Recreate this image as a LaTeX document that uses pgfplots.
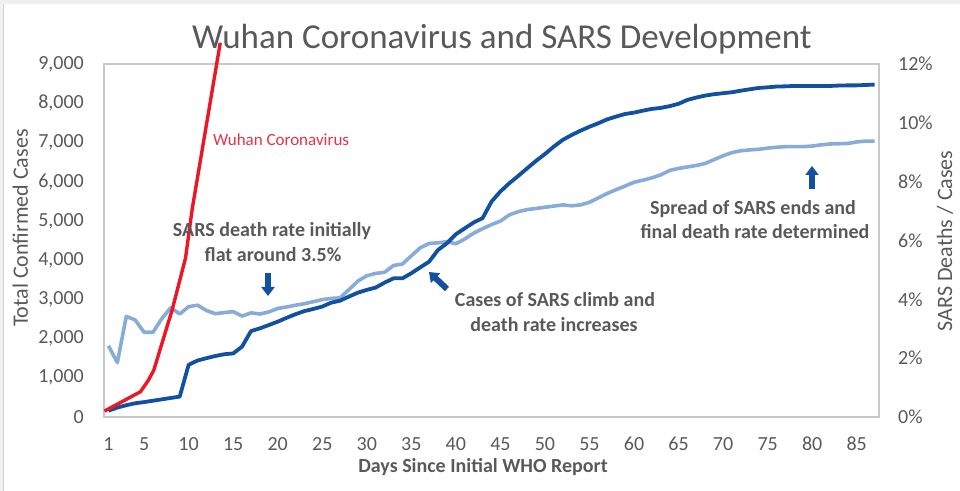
\documentclass[border=0pt]{standalone}
\usepackage{pgfplots}
\pgfplotsset{compat=1.18}
\usepackage{fontspec}
\setmainfont{Carlito}
\usetikzlibrary{arrows.meta}
\definecolor{darkblue}{RGB}{18,80,160}
\definecolor{lightblue}{RGB}{136,172,218}
\definecolor{wred}{RGB}{236,22,36}
\definecolor{wredtext}{RGB}{228,50,70}
\definecolor{txtgray}{RGB}{89,89,89}
\definecolor{framegray}{RGB}{200,200,200}

\pgfplotstableread{
day rate
1 2.42
2 1.85
3 3.42
4 3.30
5 2.88
6 2.88
7 3.35
8 3.72
9 3.50
10 3.75
11 3.80
12 3.62
13 3.51
14 3.55
15 3.58
16 3.43
17 3.54
18 3.50
19 3.57
20 3.69
21 3.74
22 3.80
23 3.85
24 3.92
25 3.99
26 4.03
27 4.05
28 4.33
29 4.62
30 4.80
31 4.88
32 4.92
33 5.15
34 5.20
35 5.48
36 5.75
37 5.90
38 5.92
39 5.96
40 5.89
41 6.05
42 6.25
43 6.40
44 6.54
45 6.66
46 6.87
47 6.98
48 7.05
49 7.09
50 7.13
51 7.17
52 7.21
53 7.18
54 7.21
55 7.30
56 7.45
57 7.60
58 7.73
59 7.85
60 7.98
61 8.05
62 8.13
63 8.23
64 8.38
65 8.45
66 8.50
67 8.55
68 8.62
69 8.75
70 8.88
71 8.99
72 9.05
73 9.08
74 9.10
75 9.14
76 9.17
77 9.19
78 9.19
79 9.19
80 9.21
81 9.25
82 9.28
83 9.29
84 9.30
85 9.35
86 9.38
87 9.38
}\ratetable

\pgfplotstableread{
day cases
1 160
2 240
3 300
4 350
5 380
6 415
7 450
8 485
9 520
10 1330
11 1440
12 1500
13 1555
14 1600
15 1620
16 1795
17 2190
18 2260
19 2345
20 2430
21 2530
22 2620
23 2700
24 2755
25 2815
26 2915
27 2965
28 3070
29 3170
30 3240
31 3300
32 3425
33 3535
34 3535
35 3665
36 3815
37 3960
38 4260
39 4430
40 4660
41 4810
42 4960
43 5070
44 5490
45 5750
46 5960
47 6145
48 6340
49 6530
50 6705
51 6895
52 7065
53 7190
54 7300
55 7400
56 7490
57 7590
58 7660
59 7725
60 7760
61 7810
62 7855
63 7880
64 7925
65 7985
66 8085
67 8145
68 8195
69 8230
70 8255
71 8280
72 8320
73 8355
74 8390
75 8405
76 8425
77 8430
78 8440
79 8440
80 8440
81 8440
82 8440
83 8450
84 8455
85 8455
86 8465
87 8475
}\casetable

\pgfplotstableread{
day cases
0.55 150
4.6 645
5.5 943
6.1 1200
8.15 2730
9.65 4050
10.4 5300
13.55 9540
}\wuhantable

\begin{document}
\begin{tikzpicture}[x=1bp,y=1bp]
\path[use as bounding box] (0,0) rectangle (960,491);
\fill[gray!12] (0,487) rectangle (960,491);
\fill[gray!10] (0,0) rectangle (3,487);
\draw[gray!35, line width=0.8bp] (3.5,0) -- (3.5,487);

% right axis: death rate
\begin{axis}[
  at={(104bp,74bp)}, anchor=south west,
  scale only axis, width=775bp, height=353bp,
  xmin=0.5, xmax=87.5, ymin=0, ymax=12,
  axis x line=none, axis y line*=right,
  axis line style={framegray, line width=1.2bp},
  major tick length=0pt,
  ytick={0,2,...,12},
  yticklabel={\pgfmathprintnumber{\tick}\%},
  /pgf/number format/assume math mode=true,
  yticklabel style={font=\fontsize{20bp}{24bp}\selectfont, text=txtgray, inner sep=0pt, anchor=west},
  yticklabel shift=19bp,
  ylabel={SARS Deaths / Cases},
  ylabel style={font=\fontsize{22bp}{26bp}\selectfont, text=txtgray, at={(axis description cs:1.085,0.499)}, anchor=center},
]
\addplot[lightblue, line width=3.6bp, line join=round] table[x=day, y=rate] {\ratetable};
\end{axis}

% left axis: cases
\begin{axis}[
  at={(104bp,74bp)}, anchor=south west,
  scale only axis, width=775bp, height=353bp,
  xmin=0.5, xmax=87.5, ymin=0, ymax=9000,
  clip=false,
  axis line style={framegray, line width=1.2bp},
  major tick length=0pt,
  xtick={1,5,10,15,20,25,30,35,40,45,50,55,60,65,70,75,80,85},
  ytick={0,1000,...,9000},
  scaled y ticks=false,
  /pgf/number format/assume math mode=true,
  /pgf/number format/1000 sep={,},
  yticklabel style={font=\fontsize{20bp}{24bp}\selectfont, text=txtgray, inner sep=0pt, anchor=east},
  yticklabel shift=20bp,
  xticklabel style={font=\fontsize{20bp}{24bp}\selectfont, text=txtgray, inner sep=0pt, anchor=north},
  xticklabel shift=20bp,
  xlabel={\bfseries Days Since Initial WHO Report},
  xlabel style={font=\fontsize{20bp}{24bp}\selectfont, text=txtgray, at={(axis description cs:0.489,-0.142)}, anchor=center},
  ylabel={Total Confirmed Cases},
  ylabel style={font=\fontsize{22bp}{26bp}\selectfont, text=txtgray, at={(axis description cs:-0.108,0.535)}, anchor=center},
]
\addplot[darkblue, line width=3.8bp, line join=round] table[x=day, y=cases] {\casetable};
\addplot[wred, line width=3.4bp, line join=round] table[x=day, y=cases] {\wuhantable};
\end{axis}

% title
\node[anchor=base, font=\fontsize{35bp}{40bp}\selectfont, text=txtgray] at (502,442) {Wuhan Coronavirus and SARS Development};

% annotations
\begin{scope}[every node/.style={anchor=base, inner sep=0pt, font=\fontsize{20bp}{24bp}\selectfont\bfseries, text=txtgray}]
\node at (272,254) {SARS death rate initially};
\node at (273,229) {flat around 3.5\%};
\node at (555,184) {Cases of SARS climb and};
\node at (554,159) {death rate increases};
\node at (753,276) {Spread of SARS ends and};
\node at (755,252) {final death rate determined};
\end{scope}
\node[anchor=base west, inner sep=0pt, font=\fontsize{17bp}{20bp}\selectfont, text=wredtext] at (213,345) {Wuhan Coronavirus};

% arrows
\draw[darkblue, line width=6bp, -{Triangle[width=13bp,length=9bp]}] (268,218) -- (268,195);
\draw[darkblue, line width=6bp, -{Triangle[width=13bp,length=9bp]}] (447,202) -- (429,219);
\draw[darkblue, line width=6bp, -{Triangle[width=13bp,length=9bp]}] (812,302) -- (812,325);
\end{tikzpicture}
\end{document}
